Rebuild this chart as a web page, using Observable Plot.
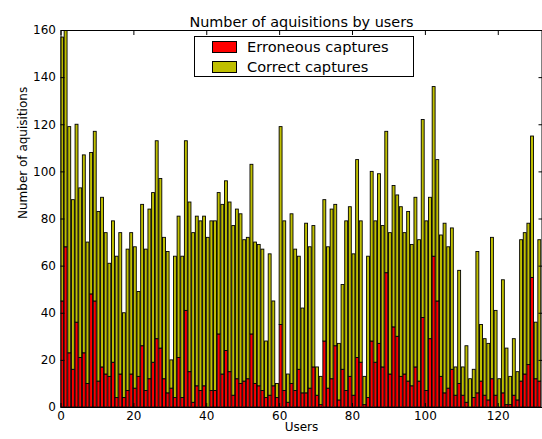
<!DOCTYPE html>
<html><head><meta charset="utf-8">
<script src="https://cdn.jsdelivr.net/npm/d3@7"></script>
<script src="https://cdn.jsdelivr.net/npm/@observablehq/plot@0.6"></script>
<style>body{margin:0;background:#fff;} svg{font-family:"DejaVu Sans",sans-serif;}</style>
</head><body><div id="chart"></div>
<script>
const title = "Number of aquisitions by users";
const xLabel = "Users";
const yLabel = "Number of aquisitions";
const seriesNames = ["Erroneous captures", "Correct captures"];
const seriesColors = ["#ff0000", "#bfbf00"];
const xTicks = [0, 20, 40, 60, 80, 100, 120];
const yTicks = [0, 20, 40, 60, 80, 100, 120, 140, 160];

const erroneous = [45,68,23,16,36,21,23,10,48,45, 11,17,14,13,19,4,14,4,7,14, 8,13,26,7,12,19,29,25,12,6, 8,4,21,4,41,15,2,9,7,9,
  0,7,7,31,14,24,15,5,12,10, 11,12,31,10,9,7,4,5,9,4, 35,7,2,10,7,16,6,6,8,17, 5,1,28,8,12,26,3,16,7,13,
  5,21,19,1,4,28,19,27,17,57, 14,34,30,13,14,11,9,17,11,38, 7,29,64,45,13,6,8,16,5,10, 5,2,0,4,6,11,5,3,12,5,
  0,6,1,1,5,3,11,14,18,55, 12,11];
const correct = [112,96,96,72,84,72,84,60,60,72, 72,72,60,48,60,60,60,36,60,60, 60,36,60,60,72,72,84,72,60,60, 12,60,60,60,72,72,72,72,72,72,
  72,72,72,60,72,72,72,72,72,72, 60,60,72,60,60,60,24,60,36,6, 84,72,12,72,60,48,36,72,60,60, 12,12,60,60,72,60,24,36,72,72,
  60,84,60,12,60,72,60,72,60,60, 60,60,60,72,60,72,60,72,60,84, 72,60,72,60,60,72,60,60,12,48, 12,24,12,12,60,24,24,24,60,36,
  12,48,24,12,24,12,60,60,60,60, 24,60];

const rows = erroneous.map((e, i) => ({user: i, err: e, ok: correct[i]}));
const barWidth = 0.8;

const plot = Plot.plot({
  width: 542, height: 439,
  marginTop: 30, marginBottom: 32, marginLeft: 60.5, marginRight: 0.5,
  x: {domain: [0, 132]},
  y: {domain: [0, 160]},
  style: {fontFamily: "DejaVu Sans, sans-serif", fontSize: "12px", background: "white", color: "black"},
  marks: [
    Plot.rect(rows, {x1: "user", x2: d => d.user + barWidth, y1: () => 0, y2: "err",
      fill: seriesColors[0], stroke: "black", strokeWidth: 0.9, clip: true}),
    Plot.rect(rows, {x1: "user", x2: d => d.user + barWidth, y1: "err", y2: d => d.err + d.ok,
      fill: seriesColors[1], stroke: "black", strokeWidth: 0.9, clip: true}),
    Plot.frame({stroke: "black"}),
    Plot.axisX(xTicks, {anchor: "bottom", tickSize: -4, fill: "none", stroke: "black"}),
    Plot.axisX(xTicks, {anchor: "top", tickSize: -4, fill: "none", stroke: "black"}),
    Plot.axisY(yTicks, {anchor: "left", tickSize: -4, fill: "none", stroke: "black"}),
    Plot.axisY(yTicks, {anchor: "right", tickSize: -4, fill: "none", stroke: "black"}),
    Plot.axisX(xTicks, {anchor: "bottom", tickSize: 0, tickPadding: 4, label: null, fontSize: 12}),
    Plot.axisY(yTicks, {anchor: "left", tickSize: 0, tickPadding: 5, label: null, fontSize: 12}),
    Plot.text([xLabel], {frameAnchor: "bottom", dy: 23, fontSize: 12}),
    Plot.text([yLabel], {frameAnchor: "left", dx: -38, rotate: -90, fontSize: 12}),
    Plot.text([title], {frameAnchor: "top", dy: -14, fontSize: 14.4})
  ]
});

// Legend (matplotlib-style box)
const svg = d3.select(plot);
const lg = svg.append("g").attr("font-family", "DejaVu Sans, sans-serif").attr("font-size", 14.6)
  .attr("text-anchor", "start");
lg.append("rect").attr("x", 194.5).attr("y", 36.5).attr("width", 219).attr("height", 40)
  .attr("fill", "white").attr("stroke", "black");
seriesNames.forEach((name, i) => {
  const y = 41.5 + i * 20;
  lg.append("rect").attr("x", 212.5).attr("y", y).attr("width", 24).attr("height", 11)
    .attr("fill", seriesColors[i]).attr("stroke", "black");
  lg.append("text").attr("x", 247).attr("y", y + 5.5).attr("dy", "0.35em").attr("fill", "black")
    .attr("text-anchor", "start").text(name);
});

document.getElementById("chart").appendChild(plot);
</script>
</body></html>
